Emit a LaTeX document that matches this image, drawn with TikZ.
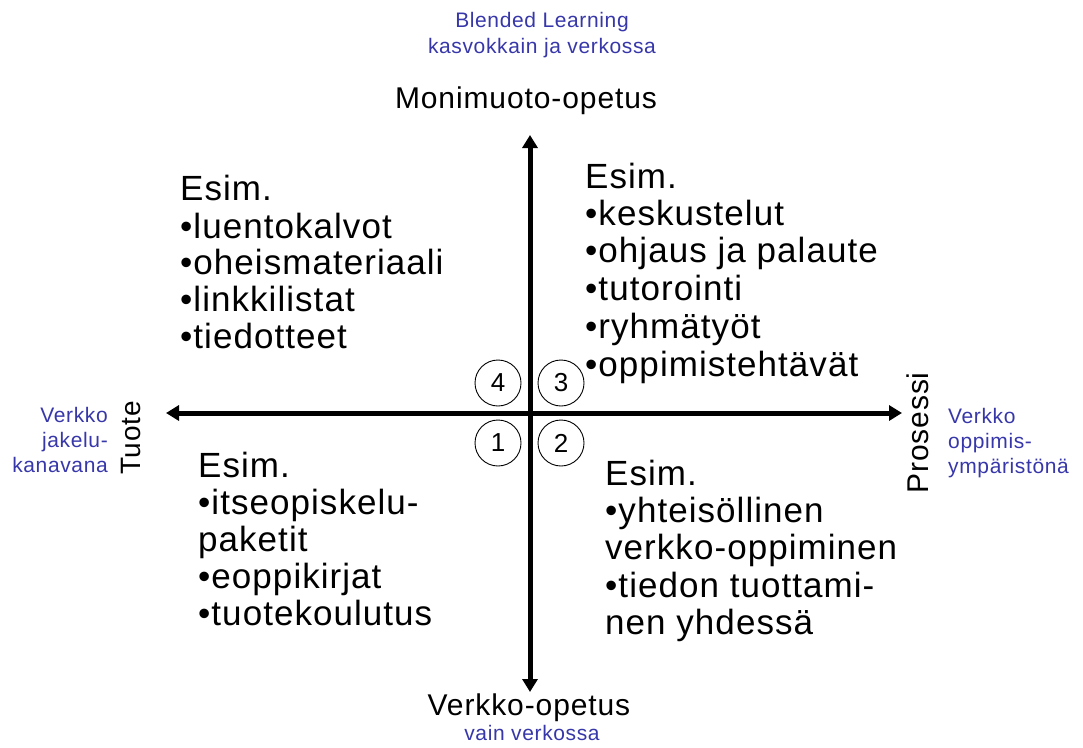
\documentclass[tikz,border=0pt]{standalone}
\usepackage{fontspec}
\setmainfont[LetterSpace=3]{Liberation Sans}
\usetikzlibrary{arrows.meta}
\definecolor{labelblue}{RGB}{55,55,170}
\begin{document}
\begin{tikzpicture}[x=1pt,y=-1pt,
  blk/.style={anchor=base west, inner sep=0pt, font=\fontsize{35}{37}\selectfont},
  axislbl/.style={anchor=base, inner sep=0pt, font=\fontsize{30}{33}\selectfont},
  bluelbl/.style={inner sep=0pt, text=labelblue, font=\fontsize{21}{25}\selectfont},
  axisline/.style={line width=5pt, {Triangle[length=13pt,width=15pt]}-{Triangle[length=13pt,width=15pt]}},
  quad/.style={circle, draw, line width=0.9pt, minimum size=46pt, inner sep=0pt, font=\fontsize{26}{28}\selectfont}]
\useasboundingbox (0,0) rectangle (1083,747);

% axes
\coordinate (top) at (530,135);
\coordinate (bottom) at (530,692);
\coordinate (left) at (166,413);
\coordinate (right) at (902,413);
\draw[axisline] (bottom) -- (top);
\draw[axisline] (left) -- (right);

% quadrant numbers
\node[quad] (q4) at (498,383) {4};
\node[quad] (q3) at (561,383) {3};
\node[quad] (q1) at (498,443) {1};
\node[quad] (q2) at (561,443) {2};

% top labels
\node[bluelbl, anchor=base] (bl1) at (542,27) {Blended Learning};
\node[bluelbl, anchor=base] (bl2) at (542,53) {kasvokkain ja verkossa};
\node[axislbl] (mono) at (526,108) {Monimuoto-opetus};

% bottom labels
\node[axislbl] (verk) at (529,715) {Verkko-opetus};
\node[bluelbl, anchor=base] (vain) at (532,740) {vain verkossa};

% left labels
\node[anchor=base, inner sep=0pt, rotate=90, font=\fontsize{28}{30}\selectfont] (tuote) at (140,438) {Tuote};
\node[bluelbl, anchor=base east] (vl1) at (108,422) {Verkko};
\node[bluelbl, anchor=base east] (vl2) at (108,447) {jakelu-};
\node[bluelbl, anchor=base east] (vl3) at (108,472) {kanavana};

% right labels
\node[anchor=base, inner sep=0pt, rotate=90, font=\fontsize{30}{32}\selectfont] (pros) at (928,433) {Prosessi};
\node[bluelbl, anchor=base west] (vr1) at (948,423) {Verkko};
\node[bluelbl, anchor=base west] (vr2) at (948,448) {oppimis-};
\node[bluelbl, anchor=base west] (vr3) at (948,473) {ympäristönä};

% top-left block
\node[blk] (tl0) at (180,200) {Esim.};
\node[blk] (tl1) at (180,238) {•luentokalvot};
\node[blk] (tl2) at (180,274) {•oheismateriaali};
\node[blk] (tl3) at (180,311) {•linkkilistat};
\node[blk] (tl4) at (180,348) {•tiedotteet};

% top-right block
\node[blk] (tr0) at (585,188) {Esim.};
\node[blk] (tr1) at (585,225) {•keskustelut};
\node[blk] (tr2) at (585,262) {•ohjaus ja palaute};
\node[blk] (tr3) at (585,300) {•tutorointi};
\node[blk] (tr4) at (585,338) {•ryhmätyöt};
\node[blk] (tr5) at (585,376) {•oppimistehtävät};

% bottom-left block
\node[blk] (bl0) at (198,477) {Esim.};
\node[blk] (bla) at (198,514) {•itseopiskelu-};
\node[blk] (blb) at (198,551) {paketit};
\node[blk] (blc) at (198,588) {•eoppikirjat};
\node[blk] (bld) at (198,625) {•tuotekoulutus};

% bottom-right block
\node[blk] (br0) at (605,485) {Esim.};
\node[blk] (br1) at (605,522) {•yhteisöllinen};
\node[blk] (br2) at (605,559) {verkko-oppiminen};
\node[blk] (br3) at (605,597) {•tiedon tuottami-};
\node[blk] (br4) at (605,634) {nen yhdessä};
\end{tikzpicture}
\end{document}
